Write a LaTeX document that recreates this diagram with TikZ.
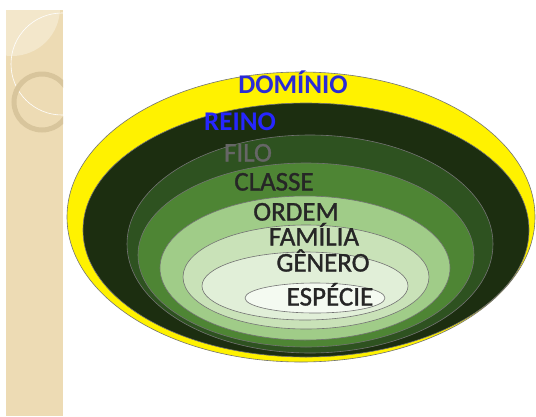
\documentclass[tikz,border=0pt]{standalone}
\usepackage{fontspec}
\setmainfont{Carlito}
\newfontfamily\rankfont[FakeBold=1.2]{Carlito}
\usetikzlibrary{shapes.geometric}

\definecolor{sand}{HTML}{EDDBB4}
\definecolor{sandlight}{HTML}{F3E7CB}
\definecolor{sandring}{HTML}{D8C59C}
\definecolor{reinocol}{HTML}{1C2E10}
\definecolor{filocol}{HTML}{2E5220}
\definecolor{classecol}{HTML}{4E8534}
\definecolor{ordemcol}{HTML}{A0CC88}
\definecolor{familiacol}{HTML}{C9E2B8}
\definecolor{generocol}{HTML}{E1EFD8}
\definecolor{especiecol}{HTML}{F4FAF1}
\definecolor{rankblue}{HTML}{2A2AD6}

\begin{document}
\begin{tikzpicture}[x=1pt,y=-1pt]
    \tikzstyle{ring}=[ellipse, draw=black!55, line width=0.6pt, inner sep=0pt]
    \tikzstyle{rank}=[font=\fontsize{27}{27}\rankfont, text=black!85, inner sep=0pt, text height=17pt, text depth=0pt]
    \tikzstyle{toprank}=[rank, font=\fontsize{27}{27}\selectfont\bfseries, text=rankblue]

    \useasboundingbox (0,0) rectangle (536,416);
    \fill[white] (0,0) rectangle (536,416);

    % side strip
    \fill[sand] (6,10) rectangle (63,416);
    \begin{scope}
      \clip (6,10) rectangle (63,416);
      \fill[sandlight] (12,8) circle (48);
      \draw[white, line width=0.6pt] (62,64) circle (51);
      \draw[sandring, line width=5pt] (42,102) circle (28);
    \end{scope}

    % nested ranks
    \node[ring, fill=yellow, minimum width=468, minimum height=290] (dominio) at (301,217) {};
    \node[ring, fill=reinocol, minimum width=446, minimum height=254] (reino) at (306,230) {};
    \node[ring, fill=filocol, minimum width=366, minimum height=218] (filo) at (310,244) {};
    \node[ring, fill=classecol, minimum width=336, minimum height=184] (classe) at (306,255) {};
    \node[ring, fill=ordemcol, minimum width=290, minimum height=144] (ordem) at (305,268) {};
    \node[ring, fill=familiacol, minimum width=246, minimum height=104] (familia) at (306,277) {};
    \node[ring, fill=generocol, minimum width=206, minimum height=68] (genero) at (305,286) {};
    \node[ring, fill=especiecol, minimum width=140, minimum height=30] (especie) at (315,298) {};

    \node[toprank] (tdominio) at (293,85) {DOMÍNIO};
    \node[toprank, text=blue!85!white] (treino) at (240,122) {REINO};
    \node[rank, text=black!60] (tfilo) at (248,153) {FILO};
    \node[rank] (tclasse) at (274,182) {CLASSE};
    \node[rank] (tordem) at (296,212) {ORDEM};
    \node[rank] (tfamilia) at (314,237) {FAMÍLIA};
    \node[rank] (tgenero) at (323,263) {GÊNERO};
    \node[rank] (tespecie) at (330,297) {ESPÉCIE};
  \end{tikzpicture}
\end{document}
